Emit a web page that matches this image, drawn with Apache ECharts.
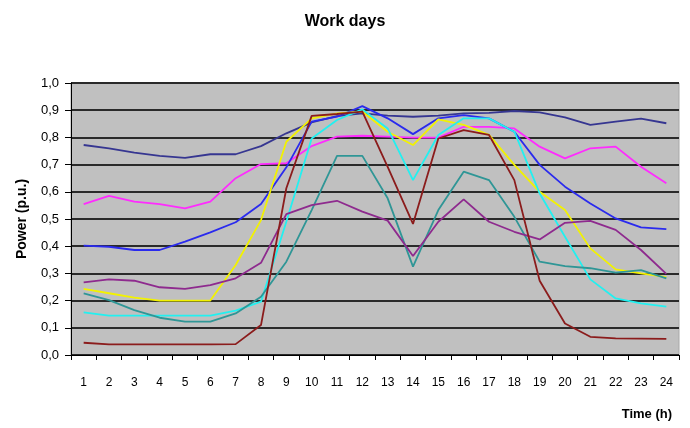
<!DOCTYPE html>
<html>
<head>
<meta charset="utf-8">
<script src="https://cdn.jsdelivr.net/npm/echarts@6/dist/echarts.min.js"></script>
<style>
html,body{margin:0;padding:0;background:#fff;}
#container{width:690px;height:428px;}
</style>
</head>
<body>
<div id="container"></div>
<script>
var hours = ['1','2','3','4','5','6','7','8','9','10','11','12','13','14','15','16','17','18','19','20','21','22','23','24'];

var navy    = [0.772,0.760,0.744,0.732,0.725,0.738,0.738,0.768,0.815,0.855,0.878,0.888,0.880,0.876,0.880,0.888,0.890,0.897,0.892,0.874,0.846,0.858,0.869,0.852];
var magenta = [0.555,0.585,0.564,0.555,0.539,0.564,0.650,0.702,0.705,0.768,0.803,0.806,0.803,0.799,0.799,0.839,0.839,0.833,0.766,0.723,0.760,0.766,0.692,0.631];
var blue    = [0.402,0.398,0.386,0.386,0.417,0.451,0.488,0.555,0.690,0.858,0.876,0.915,0.870,0.812,0.870,0.882,0.870,0.821,0.699,0.619,0.557,0.502,0.469,0.463];
var yellow  = [0.243,0.227,0.211,0.200,0.200,0.200,0.331,0.496,0.784,0.870,0.888,0.895,0.821,0.772,0.866,0.846,0.809,0.699,0.600,0.533,0.392,0.315,0.300,0.286];
var cyan    = [0.157,0.145,0.145,0.145,0.145,0.145,0.163,0.196,0.490,0.796,0.864,0.903,0.833,0.643,0.809,0.870,0.870,0.821,0.594,0.435,0.278,0.208,0.190,0.178];
var teal    = [0.227,0.202,0.165,0.137,0.123,0.123,0.153,0.214,0.343,0.533,0.732,0.732,0.576,0.325,0.533,0.674,0.643,0.508,0.343,0.327,0.319,0.303,0.312,0.282];
var purple  = [0.267,0.278,0.273,0.249,0.243,0.257,0.282,0.339,0.518,0.551,0.567,0.527,0.494,0.364,0.490,0.572,0.490,0.453,0.425,0.486,0.493,0.460,0.386,0.298];
var darkred = [0.045,0.039,0.039,0.039,0.039,0.039,0.040,0.110,0.613,0.879,0.886,0.895,0.692,0.482,0.796,0.827,0.809,0.643,0.273,0.116,0.067,0.061,0.060,0.059];

function lineOf(name, data, color){
	return {
		name: name,
		type: 'line',
		data: data,
		symbol: 'none',
		lineStyle: {color: color, width: 1.8},
		itemStyle: {color: color},
		z: 3
	};
}

var myChart = echarts.init(document.getElementById('container'));
var option = {
	animation: false,
	title: [
		{
			text: 'Work days',
			left: 'center',
			top: 9,
			textStyle: {fontFamily: 'Liberation Sans', fontSize: 16, fontWeight: 'bold', color: '#000'}
		},
		{
			text: 'Time (h)',
			right: 13,
			top: 403,
			textStyle: {fontFamily: 'Liberation Sans', fontSize: 13, fontWeight: 'bold', color: '#000'}
		}
	],
	grid: {
		left: 71, right: 11, top: 83, bottom: 73,
		show: true,
		backgroundColor: '#c0c0c0',
		borderColor: '#a8a8a8',
		borderWidth: 1
	},
	xAxis: {
		type: 'category',
		data: hours,
		boundaryGap: true,
		axisLine: {lineStyle: {color: '#000', width: 1}},
		axisTick: {show: true, length: 5, lineStyle: {color: '#000'}},
		axisLabel: {margin: 22, color: '#000', fontSize: 12, fontFamily: 'Liberation Sans'},
		splitLine: {show: false}
	},
	yAxis: {
		type: 'value',
		min: 0, max: 1, interval: 0.1,
		name: 'Power (p.u.)',
		nameLocation: 'middle',
		nameGap: 42,
		nameTextStyle: {fontFamily: 'Liberation Sans', fontSize: 14, fontWeight: 'bold', color: '#000'},
		axisLine: {show: true, lineStyle: {color: '#000', width: 1}},
		axisTick: {show: true, length: 6, lineStyle: {color: '#000'}},
		axisLabel: {
			color: '#000', fontSize: 13, fontFamily: 'Liberation Sans', margin: 12,
			formatter: function(v){ return v.toFixed(1).replace('.', ','); }
		},
		splitLine: {show: true, lineStyle: {color: '#2a2a2a', width: 2}}
	},
	series: [
		lineOf('navy', navy, '#363691'),
		lineOf('magenta', magenta, '#ff2bff'),
		lineOf('blue', blue, '#2a2aee'),
		lineOf('yellow', yellow, '#f2f200'),
		lineOf('cyan', cyan, '#22f0f0'),
		lineOf('teal', teal, '#2f9696'),
		lineOf('purple', purple, '#8e2a8e'),
		lineOf('darkred', darkred, '#8b1c1c')
	]
};
myChart.setOption(option);
</script>
</body>
</html>
